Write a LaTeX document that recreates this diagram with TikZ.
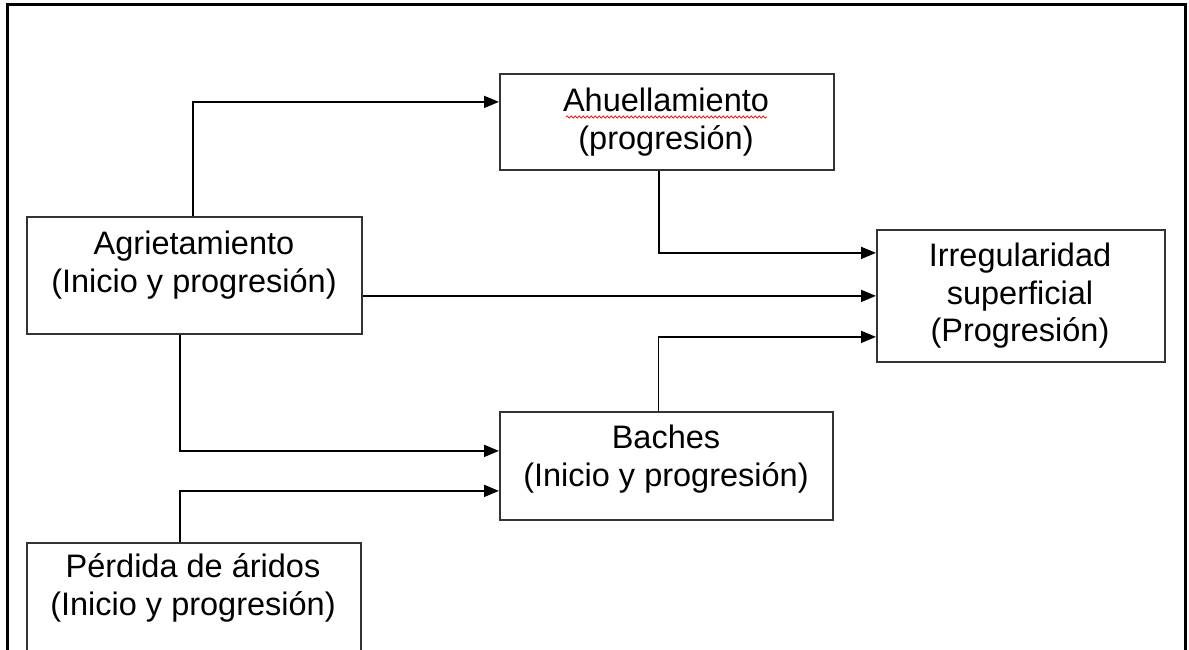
\documentclass[tikz,border=0pt]{standalone}
\usepackage{fontspec}
\setmainfont{Liberation Sans}
\usetikzlibrary{arrows.meta,decorations.pathmorphing}
\begin{document}
\begin{tikzpicture}[x=1pt,y=-1pt,
  box/.style={draw=black!80,line width=1.8pt,rectangle,inner sep=0pt,anchor=north west},
  txt/.style={align=center,font=\fontsize{32.5}{37.5}\selectfont,inner sep=0pt},
  arr/.style={line width=1.6pt,black,-{Triangle[length=15pt,width=12pt]}},
  frame/.style={line width=3pt,black}]
\useasboundingbox (0,0) rectangle (1189,650);
\coordinate (f1) at (7,660);
\coordinate (f2) at (7,5);
\coordinate (f3) at (1185,5);
\coordinate (f4) at (1185,660);
\draw[frame] (f1) -- (f2) -- (f3) -- (f4);
% boxes
\node[box,minimum width=334pt,minimum height=96pt] (ahu) at (499,73) {};
\node[box,minimum width=335pt,minimum height=117pt] (agr) at (26,216) {};
\node[box,minimum width=288pt,minimum height=132pt] (irr) at (876,229) {};
\node[box,minimum width=333pt,minimum height=108pt] (bac) at (499,411) {};
\node[box,minimum width=334pt,minimum height=110pt] (per) at (26,542) {};
% texts
\node[txt] (tahu) at (666,122) {Ahuellamiento\\(progresión)};
\node[txt] (tagr) at (194,265) {Agrietamiento\\(Inicio y progresión)};
\node[txt] (tirr) at (1020,296) {Irregularidad\\superficial\\(Progresión)};
\node[txt] (tbac) at (666,459) {Baches\\(Inicio y progresión)};
\node[txt] (tper) at (193,588) {Pérdida de áridos\\(Inicio y progresión)};
% spell-check underline
\coordinate (u1) at (566,117);
\coordinate (u2) at (767,117);
\draw[red,line width=0.7pt,decorate,decoration={snake,amplitude=1.2pt,segment length=4pt}] (u1) -- (u2);
% connectors
\draw[arr] ([xshift=-1.5pt]agr.north) |- ([yshift=20pt]ahu.west);
\draw[arr] ([xshift=-8pt]ahu.south) |- ([yshift=43pt]irr.west);
\draw[arr] (agr.east |- irr.west) -- (irr.west);
\draw[arr] ([xshift=-8pt]bac.north) |- ([yshift=-41pt]irr.west);
\draw[arr] ([xshift=-14.5pt]agr.south) |- ([yshift=15pt]bac.west);
\draw[arr] ([xshift=-14pt]per.north) |- ([yshift=-25pt]bac.west);
\end{tikzpicture}
\end{document}
